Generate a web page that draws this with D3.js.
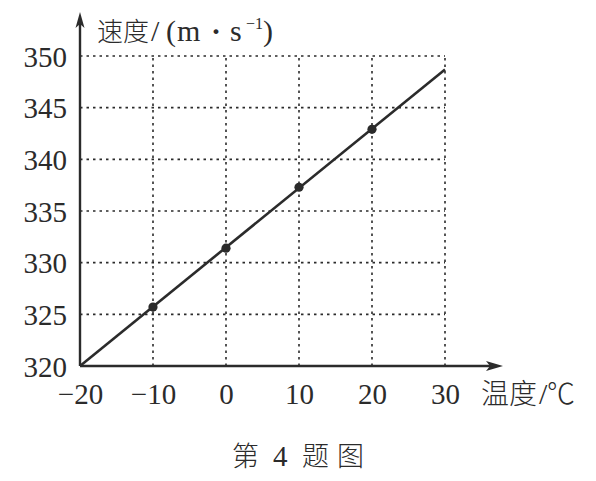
<!DOCTYPE html>
<html><head><meta charset="utf-8">
<script src="https://cdn.jsdelivr.net/npm/d3@7"></script>
<style>body{margin:0;background:#fff}svg{display:block}</style>
</head><body>
<svg id="c" width="596" height="481"></svg>
<script>
const xTicks = [-20, -10, 0, 10, 20, 30];
const yTicks = [320, 325, 330, 335, 340, 345, 350];
const lineTemps = [-20, 30];
const lineSpeeds = [320, 348.7];
const pointTemps = [-10, 0, 10, 20];
const pointSpeeds = [325.7, 331.4, 337.3, 342.9];

const svg = d3.select("#c");
const ink = "#2b2b2b";
const x = d3.scaleLinear().domain([-20, 30]).range([80, 445]);
const y = d3.scaleLinear().domain([320, 350]).range([366, 56]);
const serif = "'Liberation Serif','Times New Roman',serif";
const cjk = "'Noto Sans CJK SC','Noto Sans',sans-serif";

// grid (dotted)
const grid = svg.append("g").attr("stroke", ink).attr("stroke-width", 1.6).attr("stroke-dasharray", "2.5,4");
grid.selectAll("line.v").data(xTicks.slice(1)).join("line")
  .attr("x1", d => x(d)).attr("x2", d => x(d)).attr("y1", y(320)).attr("y2", y(350));
grid.selectAll("line.h").data(yTicks.slice(1)).join("line")
  .attr("x1", x(-20)).attr("x2", x(30)).attr("y1", d => y(d)).attr("y2", d => y(d));

// axes via d3 axis (labels only), then arrow lines
const xAxis = svg.append("g").attr("transform", `translate(0,${y(320)})`)
  .call(d3.axisBottom(x).tickValues(xTicks).tickSize(0).tickFormat(d => d < 0 ? "\u2212" + Math.abs(d) : d));
xAxis.select(".domain").remove();
xAxis.selectAll("text").attr("font-family", serif).attr("font-size", 29).attr("fill", ink).attr("y", 28).attr("dy", "0.35em");

const yAxis = svg.append("g").attr("transform", `translate(${x(-20)},0)`)
  .call(d3.axisLeft(y).tickValues(yTicks).tickSize(0).tickPadding(13));
yAxis.select(".domain").remove();
yAxis.selectAll("text").attr("font-family", serif).attr("font-size", 29).attr("fill", ink).attr("dy", "0.35em");

// axis lines with arrows
svg.append("line").attr("x1", x(-20)).attr("x2", 492).attr("y1", y(320)).attr("y2", y(320))
  .attr("stroke", ink).attr("stroke-width", 2.4);
svg.append("line").attr("x1", x(-20)).attr("x2", x(-20)).attr("y1", y(320)).attr("y2", 24)
  .attr("stroke", ink).attr("stroke-width", 2.4);
svg.append("path").attr("d", `M503,${y(320)} L486,${y(320)-5} L490,${y(320)} L486,${y(320)+5} Z`).attr("fill", ink);
svg.append("path").attr("d", `M${x(-20)},12 L${x(-20)-4.5},28 L${x(-20)},24 L${x(-20)+4.5},28 Z`).attr("fill", ink);

// data line
svg.append("path").datum(lineTemps.map((t, i) => [t, lineSpeeds[i]]))
  .attr("d", d3.line().x(d => x(d[0])).y(d => y(d[1])))
  .attr("stroke", ink).attr("stroke-width", 2.6).attr("fill", "none");
svg.selectAll("circle.p").data(pointTemps.map((t, i) => [t, pointSpeeds[i]])).join("circle")
  .attr("cx", d => x(d[0])).attr("cy", d => y(d[1])).attr("r", 4.6).attr("fill", ink);

// y title: 速度/(m · s⁻¹)
const yt = svg.append("text").attr("y", 41).attr("fill", ink);
yt.append("tspan").attr("x", 97).attr("font-family", cjk).attr("font-size", 26).attr("font-weight", 300).text("速度");
yt.append("tspan").attr("x", 151).attr("font-family", serif).attr("font-size", 30).text("/");
yt.append("tspan").attr("x", 166).attr("font-family", serif).attr("font-size", 30).text("(");
yt.append("tspan").attr("x", 177).attr("font-family", serif).attr("font-size", 30).text("m");
yt.append("tspan").attr("x", 211).attr("font-family", serif).attr("font-size", 30).attr("font-weight", "bold").text("·");
yt.append("tspan").attr("x", 230).attr("font-family", serif).attr("font-size", 30).text("s");
yt.append("tspan").attr("x", 246).attr("font-family", serif).attr("font-size", 16).attr("dy", -12).text("\u22121");
yt.append("tspan").attr("x", 263).attr("font-family", serif).attr("font-size", 30).attr("dy", 12).text(")");

// x title: 温度/℃
const xt = svg.append("text").attr("y", 404).attr("fill", ink);
xt.append("tspan").attr("x", 481).attr("font-family", cjk).attr("font-size", 28).attr("font-weight", 300).text("温度");
xt.append("tspan").attr("x", 539).attr("font-family", serif).attr("font-size", 30).text("/");
xt.append("tspan").attr("x", 547).attr("font-family", cjk).attr("font-size", 28).attr("font-weight", 300).text("℃");

// caption
const cap = svg.append("text").attr("y", 466).attr("fill", ink);
cap.append("tspan").attr("x", 232).attr("font-family", cjk).attr("font-size", 27).attr("font-weight", 300).text("第");
cap.append("tspan").attr("x", 273).attr("font-family", serif).attr("font-size", 29).text("4");
cap.append("tspan").attr("x", 302).attr("font-family", cjk).attr("font-size", 27).attr("font-weight", 300).text("题");
cap.append("tspan").attr("x", 337).attr("font-family", cjk).attr("font-size", 27).attr("font-weight", 300).text("图");
</script>
</body></html>
